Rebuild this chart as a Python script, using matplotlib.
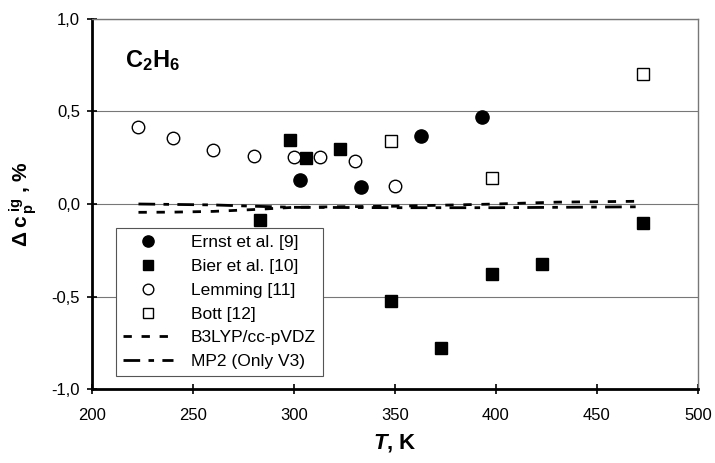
import matplotlib
matplotlib.use("Agg")
import matplotlib.pyplot as plt
from matplotlib.ticker import FuncFormatter

plt.rcParams['font.family'] = ['Liberation Sans', 'DejaVu Sans']
plt.rcParams['mathtext.fontset'] = 'custom'
plt.rcParams['mathtext.rm'] = 'Liberation Sans:bold'
plt.rcParams['mathtext.it'] = 'Liberation Sans:italic'
plt.rcParams['mathtext.bf'] = 'Liberation Sans:bold'
plt.rcParams['mathtext.bfit'] = 'Liberation Sans:bold:italic'

# experimental deviations, %
ernst_T = [303, 333, 363, 393]
ernst_d = [0.13, 0.09, 0.37, 0.47]

bier_T = [283, 298, 306, 323, 348, 373, 398, 423, 473]
bier_d = [-0.088, 0.346, 0.246, 0.298, -0.525, -0.781, -0.377, -0.322, -0.102]

lemming_T = [223, 240, 260, 280, 300, 313, 330, 350]
lemming_d = [0.417, 0.356, 0.291, 0.262, 0.255, 0.255, 0.235, 0.095]

bott_T = [348, 398, 473]
bott_d = [0.339, 0.139, 0.704]

# calculated curves
b3lyp_T = [223, 240, 260, 280, 300, 320, 350, 380, 400, 430, 473]
b3lyp_d = [-0.045, -0.044, -0.040, -0.030, -0.018, -0.015, -0.012, -0.005, 0.0, 0.010, 0.015]

mp2_T = [223, 260, 280, 300, 350, 400, 473]
mp2_d = [0.0, -0.005, -0.012, -0.018, -0.02, -0.02, -0.015]

fig = plt.figure(figsize=(7.15, 4.63), dpi=100)
ax = fig.add_axes([0.1287, 0.1598, 0.8475, 0.7992])

ax.plot(b3lyp_T, b3lyp_d, color='black', lw=2.0, dashes=(3, 3.5),
        label='B3LYP/cc-pVDZ', zorder=3)
ax.plot(mp2_T, mp2_d, color='black', lw=2.0, dashes=(6, 3, 2, 3),
        label='MP2 (Only V3)', zorder=3)

ax.plot(ernst_T, ernst_d, 'o', ms=9.5, mfc='black', mec='black',
        ls='none', label='Ernst et al. [9]', zorder=4)
ax.plot(bier_T, bier_d, 's', ms=9, mfc='black', mec='black',
        ls='none', label='Bier et al. [10]', zorder=4)
ax.plot(lemming_T, lemming_d, 'o', ms=9, mfc='white', mec='black', mew=1.0,
        ls='none', label='Lemming [11]', zorder=4)
ax.plot(bott_T, bott_d, 's', ms=9, mfc='white', mec='black', mew=1.0,
        ls='none', label='Bott [12]', zorder=4)

ax.set_xlim(200, 500)
ax.set_ylim(-1.0, 1.0)
ax.set_xticks([200, 250, 300, 350, 400, 450, 500])
ax.set_yticks([-1.0, -0.5, 0.0, 0.5, 1.0])
ax.yaxis.set_major_formatter(FuncFormatter(lambda v, p: f"{v:.1f}".replace('.', ',')))
ax.tick_params(direction='inout', length=7, width=1.2, labelsize=12, pad=5)
ax.tick_params(axis='x', pad=10)

for y in [-0.5, 0.0, 0.5, 1.0]:
    ax.axhline(y, color='#777777', lw=0.8, zorder=1)

for s in ['top', 'right']:
    ax.spines[s].set_color('#777777')
    ax.spines[s].set_linestyle((0, (1, 1)))
    ax.spines[s].set_linewidth(1.0)
for s in ['left', 'bottom']:
    ax.spines[s].set_linewidth(2.0)

ax.text(0.0545, 0.870, r'C$_2$H$_6$', transform=ax.transAxes,
        fontsize=17, fontweight='bold')

ax.set_xlabel(r'$\mathbfit{T}$, K', fontsize=16, fontweight='bold', labelpad=7)
ax.set_ylabel(r'$\mathbf{\Delta\;c_{\,p}^{\;ig}}$ , %', fontsize=15,
              fontweight='bold')
ax.yaxis.set_label_coords(-0.088, 0.5)

handles, labels = ax.get_legend_handles_labels()
order = [2, 3, 4, 5, 0, 1]
leg = ax.legend([handles[i] for i in order], [labels[i] for i in order],
                loc='upper left', bbox_to_anchor=(0.0396, 0.435),
                borderaxespad=0, fontsize=12.5, frameon=True, fancybox=False,
                edgecolor='#555555', framealpha=1, handlelength=2.9,
                handletextpad=1.0, labelspacing=0.5, borderpad=0.4,
                markerscale=0.85)
leg.get_frame().set_linewidth(0.8)
leg.set_zorder(5)

fig.savefig('out.png', dpi=100)
